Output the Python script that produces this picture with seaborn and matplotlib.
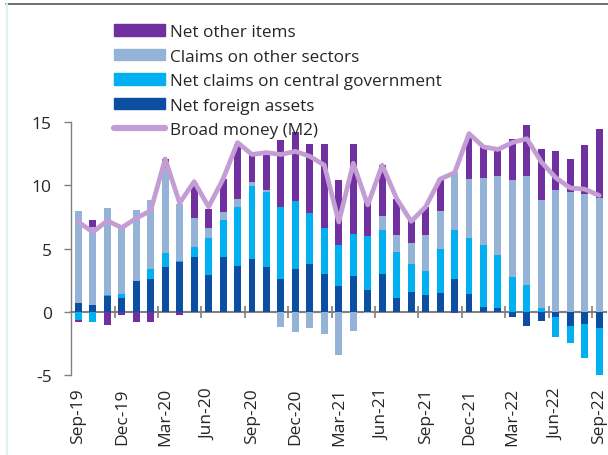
import matplotlib
matplotlib.use("Agg")
import matplotlib.pyplot as plt
from matplotlib.lines import Line2D
from matplotlib.patches import Patch
import numpy as np
import pandas as pd
import seaborn as sns

# month labels Sep-19 .. Sep-22
months = list(pd.date_range("2019-09-01", periods=37, freq="MS").strftime("%b-%y"))

net_foreign_assets = [0.65, 0.5, 1.2, 1.1, 2.4, 2.55, 3.55, 3.9, 4.35, 2.9, 4.35, 3.6, 4.2,
                      3.5, 2.55, 3.35, 3.8, 2.95, 2.05, 2.8, 1.7, 2.95, 1.1, 1.55, 1.35,
                      1.45, 2.6, 1.4, 0.4, 0.3, -0.45, -1.15, -0.75, -0.45, -1.15, -1.0, -1.3]
net_claims_gov = [-0.65, -0.85, 0.15, 0.3, 0.0, 0.8, 1.1, 0.1, 0.8, 2.95, 2.9, 4.65, 5.75,
                  6.0, 5.7, 5.4, 4.0, 3.65, 3.25, 3.35, 4.3, 3.5, 3.65, 2.25, 1.85,
                  3.5, 3.85, 4.45, 4.85, 4.15, 2.75, 2.1, 0.3, -1.55, -1.3, -2.7, -3.8]
claims_other = [7.35, 6.2, 6.85, 5.45, 5.65, 5.5, 6.75, 4.55, 2.3, 0.8, 0.65, 0.7, 0.35,
                0.15, -1.2, -1.65, -1.3, -1.75, -3.4, -1.55, -0.15, 1.1, 1.3, 1.6, 2.85,
                3.05, 4.6, 4.65, 5.35, 6.3, 7.7, 8.65, 8.55, 9.6, 9.45, 9.35, 9.0]
net_other_items = [-0.2, 0.55, -1.05, -0.3, -0.85, -0.85, 0.7, -0.3, 2.75, 1.5, 2.6, 4.35, 2.15,
                   2.95, 5.35, 5.5, 5.5, 6.65, 5.1, 7.1, 2.75, 4.05, 2.9, 1.75, 2.25,
                   2.5, -0.15, 3.4, 2.45, 2.15, 3.25, 4.05, 4.0, 3.1, 2.65, 3.85, 5.5]
broad_money = [7.1, 6.3, 7.2, 6.65, 7.4, 8.0, 12.1, 8.6, 10.3, 8.3, 10.5, 13.4, 12.45,
               12.6, 12.45, 12.7, 12.3, 11.6, 7.1, 11.75, 8.45, 11.6, 8.95, 7.15, 8.3,
               10.5, 11.0, 14.1, 13.05, 12.85, 13.4, 13.7, 11.85, 10.6, 9.8, 9.7, 9.2]

series_names = ["Net foreign assets", "Net claims on central government",
                "Claims on other sectors", "Net other items"]
series_colors = ["#0B4EA2", "#00B0F0", "#95B3D7", "#7030A0"]
line_color = "#C59DD5"
axis_grey = "#808080"

sns.set_theme(style="white")
plt.rcParams["font.family"] = ["Open Sans", "DejaVu Sans"]
plt.rcParams["axes.unicode_minus"] = False

df = pd.DataFrame({"month": months})
layers = [net_foreign_assets, net_claims_gov, claims_other, net_other_items]
# diverging stack: positives pile up, negatives pile down (in series order)
vals = np.array(layers)
pos_cum = np.cumsum(np.clip(vals, 0, None), axis=0)
neg_cum = np.cumsum(np.clip(vals, None, 0), axis=0)

fig = plt.figure(figsize=(6.08, 4.56), dpi=100)
ax = fig.add_axes([0.117, 0.1761, 0.8805, 0.5535])

for k in range(len(layers) - 1, -1, -1):
    for cum in (pos_cum, neg_cum):
        sns.barplot(x=df["month"], y=cum[k], color=series_colors[k], width=0.48,
                    saturation=1, linewidth=0, ax=ax, zorder=2)

sns.lineplot(x=np.arange(len(months)), y=broad_money, color=line_color,
             linewidth=3.4, ax=ax, zorder=3)

ax.set_xlim(-0.5, len(months) - 0.5)
ax.set_ylim(-5, 15)
ax.set_yticks([-5, 0, 5, 10, 15])
ax.set_xticks(range(0, len(months), 3))
ax.set_xticklabels(months[::3], rotation=90)
ax.set_xlabel("")
ax.set_ylabel("")
for s in ["top", "right", "bottom"]:
    ax.spines[s].set_visible(False)
ax.spines["left"].set_color(axis_grey)
ax.spines["left"].set_linewidth(1.0)
ax.tick_params(axis="y", left=True, length=5, width=1.0, color=axis_grey,
               pad=9, labelsize=12.5, labelcolor="#262626")
ax.tick_params(axis="x", bottom=False, length=0, pad=9, labelsize=12.5,
               labelcolor="#262626")

# zero line with tick marks between quarters
sec = ax.secondary_xaxis(0.25)
sec.set_xticks(np.arange(2.5, len(months), 3))
sec.set_xticklabels([])
sec.tick_params(axis="x", direction="inout", length=8, width=1.2, color=axis_grey)
sec.spines["bottom"].set_color(axis_grey)
sec.spines["bottom"].set_linewidth(1.5)

handles = [Patch(color=series_colors[k], label=series_names[k]) for k in (3, 2, 1, 0)]
handles.append(Line2D([], [], color=line_color, linewidth=4.5, label="Broad money (M2)"))
fig.legend(handles=handles, loc="upper left", bbox_to_anchor=(114 / 608, 1 - 25 / 456),
           frameon=False, fontsize=12.3, handlelength=3.0, handleheight=0.65,
           handletextpad=0.3, labelspacing=0.5, borderpad=0, borderaxespad=0)

# report frame remnants
fig.add_artist(Line2D([6 / 608, 1], [1 - 4.5 / 456] * 2, color="#555555", linewidth=1.2))
fig.add_artist(Line2D([6.5 / 608] * 2, [0, 1 - 5 / 456], color="#DDF2F7", linewidth=1.5))

fig.savefig("out.png", dpi=100)
